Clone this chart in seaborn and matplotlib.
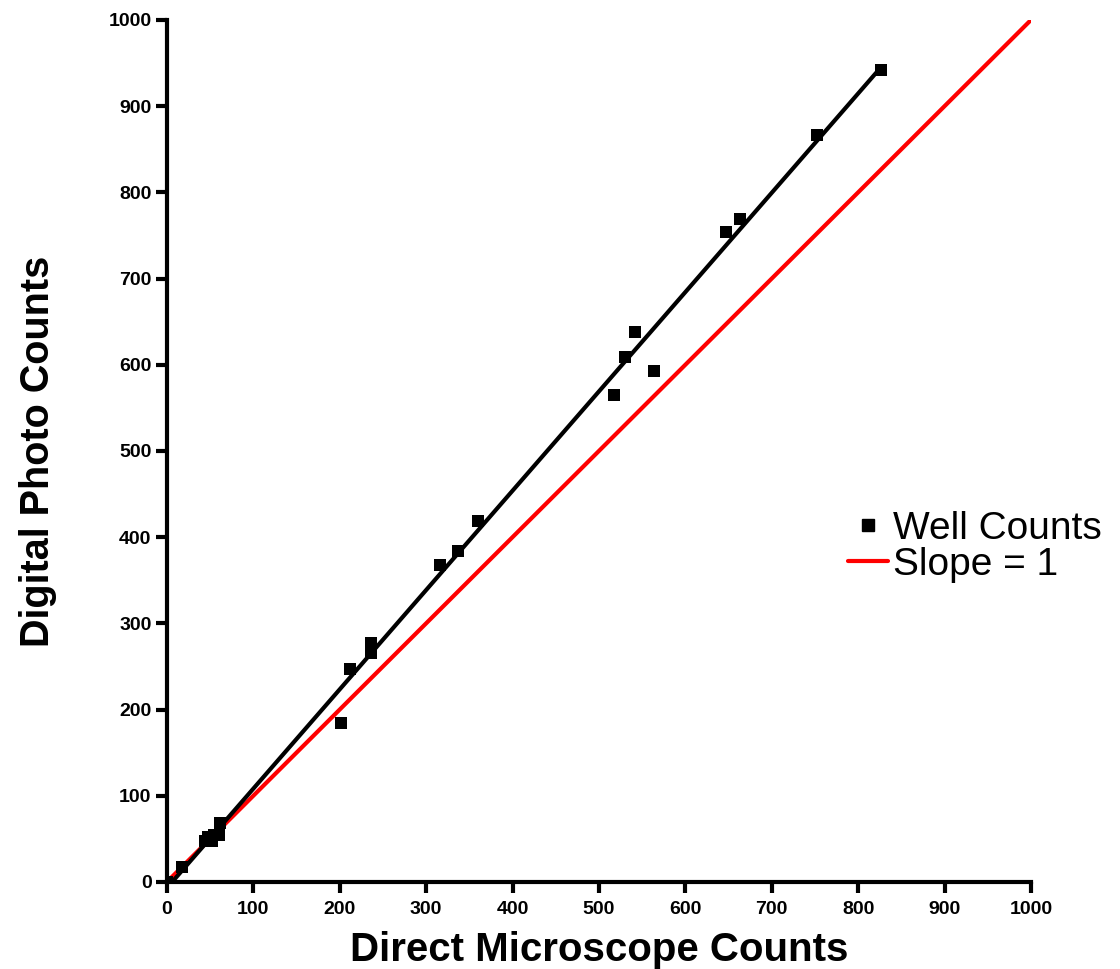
import matplotlib
matplotlib.use("Agg")
import matplotlib.pyplot as plt
import seaborn as sns
import numpy as np
from matplotlib.lines import Line2D

# Data
direct_counts = [0, 17, 44, 48, 52, 55, 60, 61, 201, 212, 236, 236, 316, 337, 360,
                 518, 530, 542, 564, 647, 663, 752, 826]
photo_counts = [0, 17, 47, 52, 47, 55, 55, 68, 184, 247, 277, 266, 368, 384, 419,
                565, 609, 638, 593, 754, 769, 867, 942]
slope_x = [0, 1000]
slope_y = [0, 1000]
ticks = [0, 100, 200, 300, 400, 500, 600, 700, 800, 900, 1000]

sns.set_style("ticks")
plt.rcParams['font.family'] = ['Liberation Sans', 'DejaVu Sans']
plt.rcParams['text.color'] = 'black'
plt.rcParams['axes.labelcolor'] = 'black'
plt.rcParams['xtick.color'] = 'black'
plt.rcParams['ytick.color'] = 'black'
plt.rcParams['axes.edgecolor'] = 'black'

fig = plt.figure(figsize=(11.2, 9.69), dpi=100)
ax = fig.add_axes([0.149, 0.0898, 0.7715, 0.8896])

sns.lineplot(x=slope_x, y=slope_y, ax=ax, color='#ff0000', linewidth=3, zorder=2)
sns.regplot(x=direct_counts, y=photo_counts, ax=ax, ci=None, marker='s', color='black',
            scatter_kws=dict(s=80, zorder=3, linewidths=0, alpha=1),
            line_kws=dict(linewidth=3, zorder=2.5))

ax.set_xlim(0, 1000)
ax.set_ylim(0, 1000)
ax.set_xticks(ticks)
ax.set_yticks(ticks)
ax.tick_params(axis='both', direction='out', length=8, width=3, labelsize=14)
ax.tick_params(axis='x', pad=6)
ax.tick_params(axis='y', pad=3)
for lab in ax.get_xticklabels() + ax.get_yticklabels():
    lab.set_fontweight('bold')
for s in ['left', 'bottom']:
    ax.spines[s].set_linewidth(3)
sns.despine(ax=ax)
for sp in ['left', 'bottom']:
    ax.spines[sp].set_capstyle('projecting')

ax.set_xlabel('Direct Microscope Counts', fontsize=29, fontweight='bold', labelpad=9)
ax.set_ylabel('Digital Photo Counts', fontsize=28.5, fontweight='bold', labelpad=37)

handles = [Line2D([], [], marker='s', color='black', linestyle='None', markersize=9),
           Line2D([], [], color='#ff0000', linewidth=3)]
fig.legend(handles, ['Well Counts', 'Slope = 1'], loc='center left',
           bbox_to_anchor=(0.757, 0.436), frameon=False, fontsize=28,
           handlelength=1.03, handletextpad=0.12, labelspacing=0.0, borderpad=0,
           borderaxespad=0)

fig.savefig('out.png', dpi=100)
